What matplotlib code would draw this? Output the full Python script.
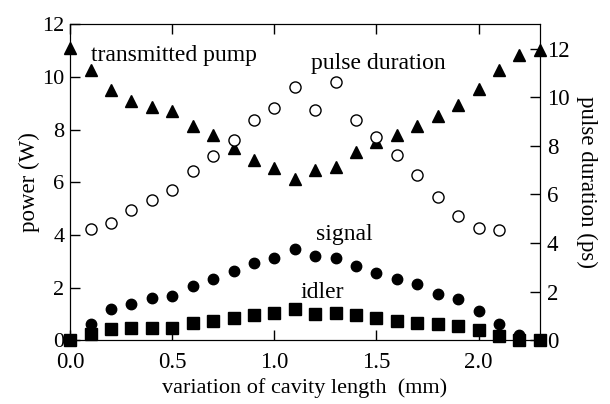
import numpy as np
import matplotlib.pyplot as plt

plt.rcParams['font.family'] = ['Liberation Serif', 'DejaVu Serif']

# cavity length variation (mm)
x = np.round(np.arange(0, 2.31, 0.1), 1)

# transmitted pump power (W)
pump = [11.08, 10.28, 9.52, 9.09, 8.86, 8.71, 8.13, 7.80, 7.29, 6.84, 6.54, 6.14,
        6.46, 6.58, 7.14, 7.51, 7.80, 8.15, 8.52, 8.94, 9.55, 10.25, 10.85, 11.01]
# signal power (W)
signal = [0.0, 0.63, 1.17, 1.39, 1.61, 1.67, 2.06, 2.32, 2.63, 2.95, 3.14, 3.46,
          3.19, 3.14, 2.82, 2.57, 2.32, 2.13, 1.77, 1.56, 1.10, 0.60, 0.19, 0.0]
# idler power (W)
idler = [0.0, 0.25, 0.44, 0.48, 0.48, 0.48, 0.66, 0.72, 0.85, 0.95, 1.04, 1.20,
         0.99, 1.05, 0.95, 0.86, 0.73, 0.66, 0.61, 0.53, 0.38, 0.15, 0.0, 0.0]
# pulse duration (ps), measured from 0.1 to 2.1 mm
x_pd = x[1:22]
pulse = [4.59, 4.84, 5.34, 5.78, 6.17, 6.95, 7.58, 8.25, 9.04, 9.56, 10.41,
         9.49, 10.62, 9.08, 8.36, 7.63, 6.78, 5.89, 5.11, 4.62, 4.52]

fig, ax = plt.subplots(figsize=(6.1, 4.04), dpi=100)
fig.subplots_adjust(left=0.115, right=0.885, top=0.94, bottom=0.158)
ax2 = ax.twinx()

ax.plot(x, pump, '^', color='k', ms=9, clip_on=False, zorder=3)
ax.plot(x, signal, 'o', color='k', ms=7.5, clip_on=False, zorder=3)
ax.plot(x, idler, 's', color='k', ms=8.5, clip_on=False, zorder=4)
ax2.plot(x_pd, pulse, 'o', mfc='white', mec='k', mew=1, ms=8, clip_on=False)

ax.set_xlim(0, 2.3)
ax.set_ylim(0, 12)
ax2.set_ylim(0, 13)
ax.set_xticks([0.0, 0.5, 1.0, 1.5, 2.0])
ax.set_xticklabels(['0.0', '0.5', '1.0', '1.5', '2.0'])
ax.set_yticks(range(0, 13, 2))
ax2.set_yticks(range(0, 13, 2))

ax.tick_params(axis='both', direction='in', length=7, width=1, top=True)
ax.tick_params(axis='x', pad=8.5, labelsize=16.5)
ax.tick_params(axis='y', pad=4, labelsize=16)
ax2.tick_params(axis='y', direction='in', length=7, width=1, labelsize=16.5, pad=5)

ax.set_xlabel('variation of cavity length  (mm)', fontsize=16, labelpad=4)
ax.set_ylabel('power (W)', fontsize=16.5, labelpad=2)
ax2.set_ylabel('pulse duration (ps)', fontsize=16.5, rotation=270, labelpad=20)

ax.text(0.10, 10.8, 'transmitted pump', fontsize=17, va='center')
ax.text(1.18, 10.5, 'pulse duration', fontsize=17, va='center')
ax.text(1.205, 4.0, 'signal', fontsize=17, va='center')
ax.text(1.13, 1.8, 'idler', fontsize=17, va='center')

fig.savefig('out.png', dpi=100)
